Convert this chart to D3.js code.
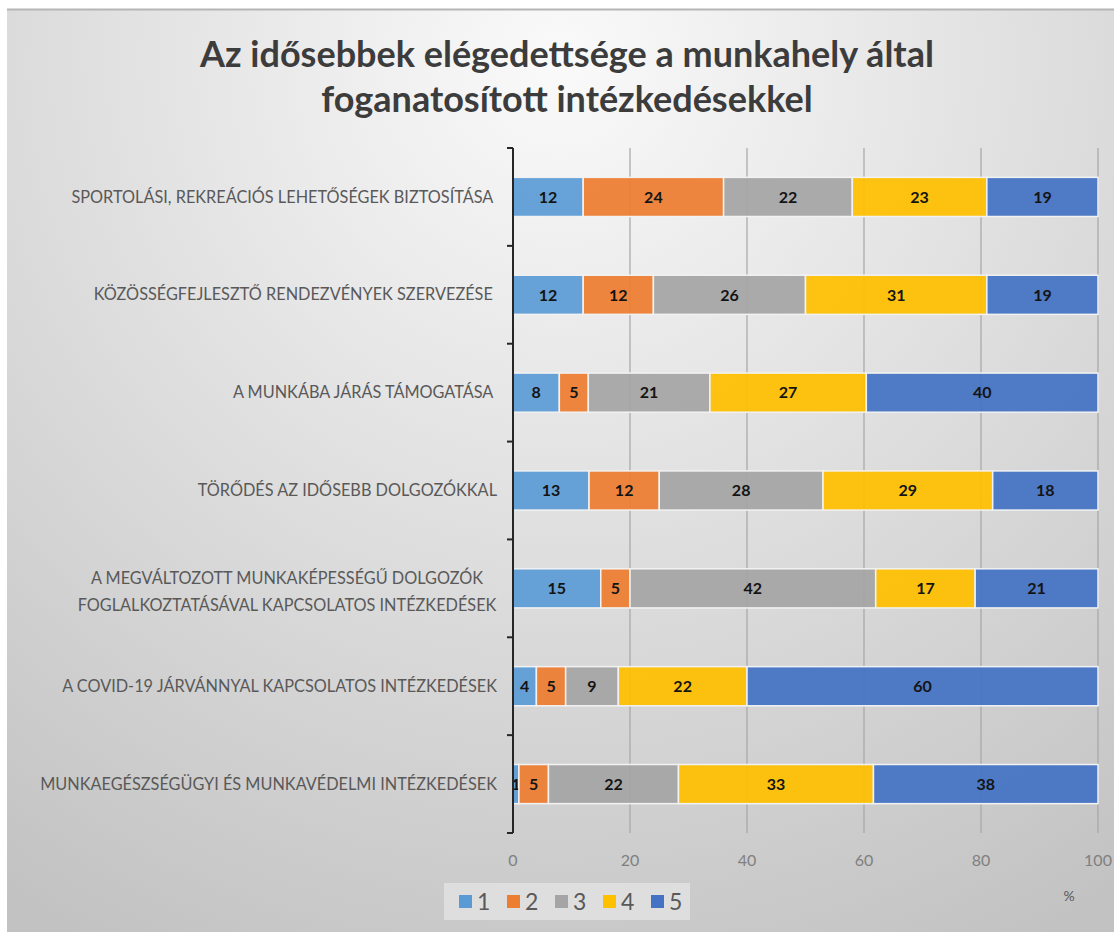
<!DOCTYPE html>
<html>
<head>
<meta charset="utf-8">
<script src="https://cdn.jsdelivr.net/npm/d3@7"></script>
<style>
  body { margin: 0; background: #fff; }
  svg { display: block; }
</style>
</head>
<body>
<script>
// data
var categories = [
  ["SPORTOLÁSI, REKREÁCIÓS LEHETŐSÉGEK BIZTOSÍTÁSA "],
  ["KÖZÖSSÉGFEJLESZTŐ RENDEZVÉNYEK SZERVEZÉSE "],
  ["A MUNKÁBA JÁRÁS TÁMOGATÁSA "],
  ["TÖRŐDÉS AZ IDŐSEBB DOLGOZÓKKAL"],
  ["A MEGVÁLTOZOTT MUNKAKÉPESSÉGŰ DOLGOZÓK", "FOGLALKOZTATÁSÁVAL KAPCSOLATOS INTÉZKEDÉSEK"],
  ["A COVID-19 JÁRVÁNNYAL KAPCSOLATOS INTÉZKEDÉSEK"],
  ["MUNKAEGÉSZSÉGÜGYI ÉS MUNKAVÉDELMI INTÉZKEDÉSEK"]
];
var seriesNames = ["1", "2", "3", "4", "5"];
var s1 = [12, 12, 8, 13, 15, 4, 1];
var s2 = [24, 12, 5, 12, 5, 5, 5];
var s3 = [22, 26, 21, 28, 42, 9, 22];
var s4 = [23, 31, 27, 29, 17, 22, 33];
var s5 = [19, 19, 40, 18, 21, 60, 38];
var xTicks = [0, 20, 40, 60, 80, 100];
var colors = ["#5B9BD5", "#ED7D31", "#A5A5A5", "#FFC000", "#4472C4"];

var W = 1114, H = 932;
var margin = {left: 513, right: 16, top: 148, bottom: 99};
var font = "Lato, 'Open Sans', sans-serif";

var svg = d3.select("body").append("svg")
  .attr("width", W)
  .attr("height", H);

// background
var defs = svg.append("defs");
var grad = defs.append("radialGradient")
  .attr("id", "bg")
  .attr("gradientUnits", "userSpaceOnUse")
  .attr("cx", 560).attr("cy", 60).attr("r", 1000);
grad.append("stop").attr("offset", "0%").attr("stop-color", "#fafafa");
grad.append("stop").attr("offset", "100%").attr("stop-color", "#c2c2c2");

svg.append("rect")
  .attr("x", 7).attr("y", 9)
  .attr("width", W - 7).attr("height", H - 9)
  .attr("fill", "url(#bg)");
svg.append("line")
  .attr("x1", 7).attr("x2", W).attr("y1", 9.5).attr("y2", 9.5)
  .attr("stroke", "#b5b5b5").attr("stroke-width", 2);

// title
var title = svg.append("text")
  .attr("text-anchor", "middle")
  .attr("font-family", font)
  .attr("font-weight", "bold")
  .attr("font-size", 36)
  .attr("fill", "#3c3c3c");
title.append("tspan").attr("x", 567).attr("y", 67).text("Az idősebbek elégedettsége a munkahely által");
title.append("tspan").attr("x", 567).attr("y", 112).text("foganatosított intézkedésekkel");

// stack
var rows = categories.map(function(c, i) {
  var r = {i: i};
  var vals = [s1[i], s2[i], s3[i], s4[i], s5[i]];
  var tot = d3.sum(vals);
  seriesNames.forEach(function(k, j) { r[k] = vals[j] / tot * 100; r["v" + k] = vals[j]; });
  return r;
});
var stack = d3.stack().keys(seriesNames);
var layers = stack(rows);

var x = d3.scaleLinear().domain([0, 100]).range([margin.left, W - margin.right]);
var y = d3.scaleBand().domain(d3.range(categories.length))
  .range([margin.top, H - margin.bottom]).paddingInner(0.6).paddingOuter(0.3);

// grid
svg.append("g").selectAll("line")
  .data(xTicks.slice(1))
  .enter().append("line")
    .attr("x1", function(d) { return x(d); })
    .attr("x2", function(d) { return x(d); })
    .attr("y1", margin.top)
    .attr("y2", H - margin.bottom)
    .attr("stroke", "#a6a6a6")
    .attr("stroke-width", 1.2);

// bars
var g = svg.append("g");
layers.forEach(function(layer, j) {
  var lg = g.append("g");
  lg.selectAll("rect")
    .data(layer)
    .enter().append("rect")
      .attr("x", function(d) { return x(d[0]); })
      .attr("y", function(d) { return y(d.data.i); })
      .attr("width", function(d) { return x(d[1]) - x(d[0]); })
      .attr("height", y.bandwidth())
      .attr("fill", colors[j])
      .attr("fill-opacity", 0.93)
      .attr("stroke", "#f2f2f2")
      .attr("stroke-width", 1.5);
  lg.selectAll("text")
    .data(layer)
    .enter().append("text")
      .attr("x", function(d) { return (x(d[0]) + x(d[1])) / 2; })
      .attr("y", function(d) { return y(d.data.i) + y.bandwidth() / 2; })
      .attr("dy", "0.36em")
      .attr("text-anchor", "middle")
      .attr("font-family", font)
      .attr("font-weight", "bold")
      .attr("font-size", 16)
      .attr("fill", "#141414")
      .text(function(d) { return d.data["v" + seriesNames[j]]; });
});

// y axis
var step = y.step();
var bounds = d3.range(categories.length + 1).map(function(i) { return margin.top + i * step; });
svg.append("line")
  .attr("x1", margin.left).attr("x2", margin.left)
  .attr("y1", margin.top).attr("y2", H - margin.bottom)
  .attr("stroke", "#262626").attr("stroke-width", 2);
svg.append("g").selectAll("line")
  .data(bounds)
  .enter().append("line")
    .attr("x1", margin.left - 6).attr("x2", margin.left)
    .attr("y1", function(d) { return d; }).attr("y2", function(d) { return d; })
    .attr("stroke", "#262626").attr("stroke-width", 2);

// category labels
svg.append("g").selectAll("text")
  .data(categories)
  .enter().append("text")
    .attr("text-anchor", "end")
    .attr("font-family", font)
    .attr("font-size", 16.3)
    .attr("fill", "#595959")
    .style("white-space", "pre")
    .each(function(lines, i) {
      var t = d3.select(this);
      var cy = y(i) + y.bandwidth() / 2;
      if (lines.length == 1) {
        t.append("tspan").attr("x", 497).attr("y", cy).attr("dy", "0.35em").text(lines[0]);
      } else {
        t.attr("text-anchor", "middle");
        lines.forEach(function(l, k) {
          t.append("tspan").attr("x", 287).attr("y", cy + (k - 0.5) * 27 + 3.5).attr("dy", "0.35em").text(l);
        });
      }
    });

// x tick labels
svg.append("g").selectAll("text")
  .data(xTicks)
  .enter().append("text")
    .attr("x", function(d) { return x(d); })
    .attr("y", 866)
    .attr("text-anchor", "middle")
    .attr("font-family", font)
    .attr("font-size", 16)
    .attr("fill", "#808080")
    .text(function(d) { return d; });

svg.append("text")
  .attr("x", 1069).attr("y", 901)
  .attr("text-anchor", "middle")
  .attr("font-family", font)
  .attr("font-size", 14)
  .attr("fill", "#595959")
  .text("%");

// legend
var leg = svg.append("g");
leg.append("rect")
  .attr("x", 444).attr("y", 883).attr("width", 246).attr("height", 37)
  .attr("fill", "#e2e2e2").attr("fill-opacity", 0.8);
var item = leg.selectAll("g")
  .data(seriesNames)
  .enter().append("g")
    .attr("transform", function(d, i) { return "translate(" + (459 + i * 48) + ",902)"; });
item.append("rect")
  .attr("x", 0).attr("y", -7).attr("width", 13).attr("height", 13)
  .attr("fill", function(d, i) { return colors[i]; });
item.append("text")
  .attr("x", 18).attr("y", 0).attr("dy", "0.36em")
  .attr("font-family", font)
  .attr("font-size", 23)
  .attr("fill", "#595959")
  .text(function(d) { return d; });
</script>
</body>
</html>
